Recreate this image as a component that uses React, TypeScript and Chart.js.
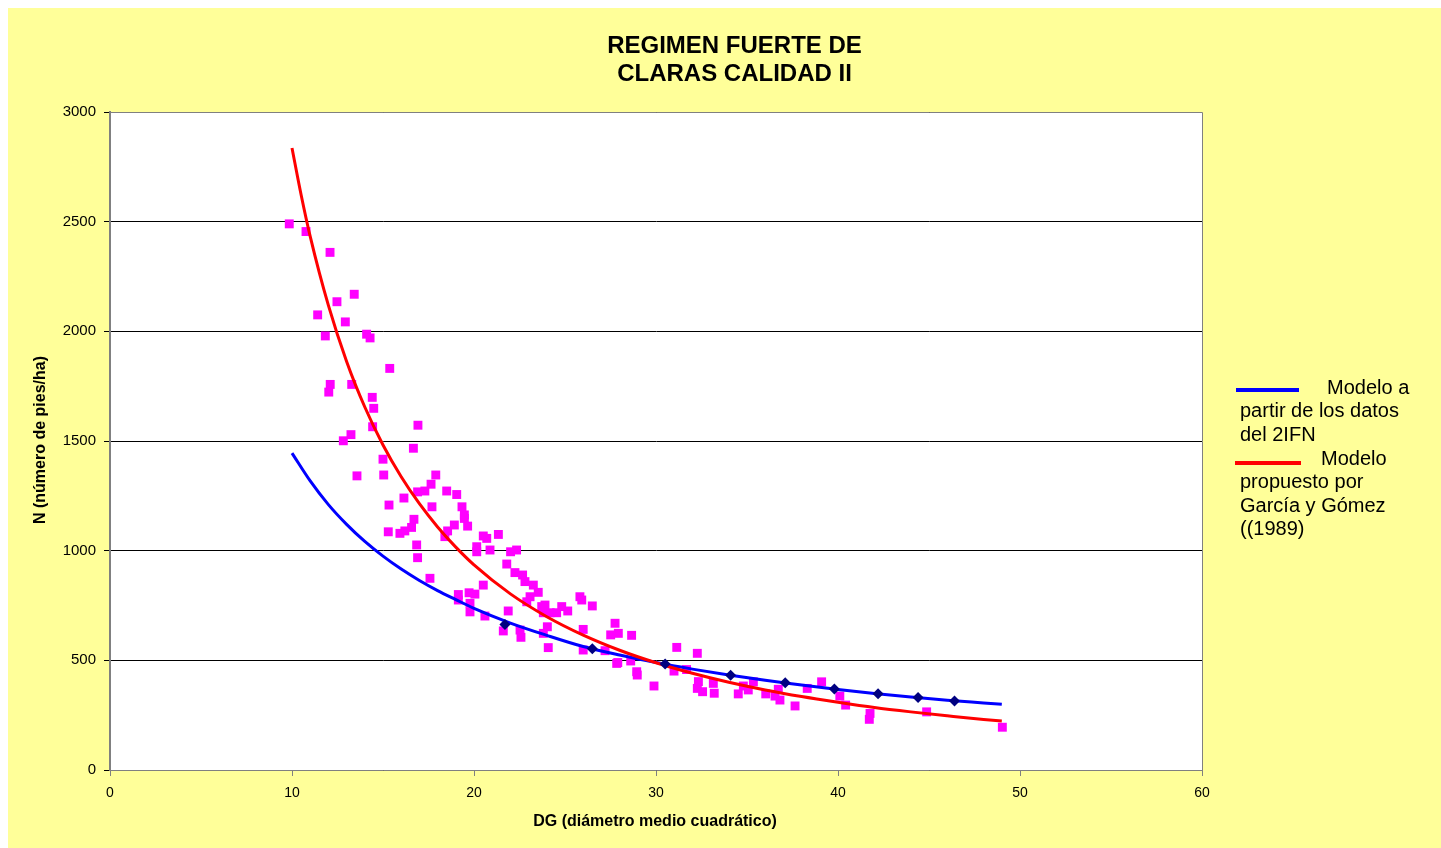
import React, { useEffect, useRef } from "react";
import { Chart, registerables } from "chart.js";

Chart.register(...registerables);

const FONT = "'Liberation Sans', Arial, Helvetica, sans-serif";

// Observed plots: DG (cm) and N (pies/ha)
const obsDG = [
  9.85, 10.77, 12.09, 13.42, 12.47, 11.41, 12.93, 11.83, 14.1, 14.29,
  15.37, 12.1, 12.02, 13.28, 14.41, 14.49, 14.43, 16.92, 13.24, 12.82,
  16.67, 15.0, 13.57, 15.04, 17.9, 17.64, 16.15, 16.9, 17.3, 18.5,
  19.05, 15.33, 17.69, 19.34, 19.47, 19.47, 19.65, 16.7, 16.57, 15.29,
  15.93, 16.2, 18.92, 18.55, 18.4, 20.51, 20.7, 21.34, 16.85, 16.9,
  20.15, 20.15, 20.88, 22.01, 22.34, 21.8, 22.25, 22.67, 22.8, 23.26,
  23.53, 23.08, 22.9, 17.58, 20.51, 19.14, 19.73, 20.05, 19.14, 19.78,
  19.78, 20.6, 21.88, 23.72, 23.9, 23.81, 24.18, 24.82, 25.15, 24.54,
  25.82, 25.92, 26.5, 24.03, 23.81, 21.61, 22.53, 22.58, 24.08, 26.0,
  27.75, 27.51, 27.93, 27.84, 26.0, 27.2, 28.66, 27.9, 28.61, 28.94,
  28.97, 29.89, 31.14, 32.27, 30.99, 31.68, 32.33, 32.27, 32.56, 33.15,
  33.2, 34.52, 34.8, 35.35, 35.07, 36.03, 36.54, 36.81, 36.72, 37.64,
  38.31, 39.1, 40.1, 40.42, 41.76, 41.72, 44.87, 49.03,
];
const obsN = [
  2490, 2455, 2360, 2169, 2135, 2075, 2043, 1979, 1987, 1970,
  1831, 1758, 1723, 1758, 1699, 1649, 1565, 1572, 1529, 1501,
  1467, 1417, 1341, 1345, 1345, 1303, 1240, 1268, 1272, 1272,
  1256, 1208, 1200, 1200, 1163, 1147, 1112, 1143, 1106, 1086,
  1079, 1090, 1117, 1090, 1064, 1067, 1056, 1074, 1026, 968,
  1018, 995, 1003, 995, 1003, 939, 900, 889, 859, 843,
  810, 790, 767, 874, 843, 800, 808, 802, 775, 760,
  721, 702, 725, 745, 752, 717, 717, 745, 725, 717,
  790, 775, 748, 653, 623, 634, 638, 605, 558, 641,
  669, 616, 623, 486, 547, 544, 614, 490, 497, 448,
  433, 383, 559, 532, 451, 458, 403, 372, 357, 395,
  350, 347, 383, 402, 365, 347, 337, 319, 368, 292,
  372, 402, 337, 296, 258, 231, 265, 195,
];

// Model fitted to 2IFN data (blue curve)
const ifnDG = [10, 11, 12, 13, 14, 15, 16, 17, 18, 19, 20, 22, 24, 26, 28, 30, 32, 34, 36, 38, 40, 42, 44, 46, 48, 49];
const ifnN = [1445, 1318, 1210, 1120, 1042, 975, 916, 864, 818, 777, 737, 670, 614, 563, 524, 490, 460, 433, 409, 388, 367, 349, 333, 318, 306, 300];

// Marked points on the 2IFN model
const ifnMarkDG = [21.7, 26.5, 30.5, 34.1, 37.1, 39.8, 42.2, 44.4, 46.4];
const ifnMarkN = [663, 553, 483, 432, 398, 369, 348, 330, 315];

// Model proposed by García y Gómez (1989) (red curve)
const ggDG = [10, 10.5, 11, 12, 13, 14, 15, 16, 17, 18, 19, 20, 22, 24, 26, 28, 30, 32, 34, 36, 38, 40, 42, 44, 46, 48, 49];
const ggN = [2836, 2623, 2433, 2118, 1863, 1655, 1482, 1337, 1214, 1108, 1016, 935, 803, 699, 615, 546, 489, 441, 400, 365, 335, 309, 285, 265, 247, 230, 223];

const xTickStep = 10;
const yTickStep = 500;

const titleLines = ["REGIMEN FUERTE DE", "CLARAS CALIDAD II"];
const xTitle = "DG (diámetro medio cuadrático)";
const yTitle = "N (número de pies/ha)";

const toPts = (xs: number[], ys: number[]) => xs.map((x, i) => ({ x, y: ys[i] }));

export default function App() {
  const ref = useRef<HTMLCanvasElement>(null);

  useEffect(() => {
    if (!ref.current) return;
    const plotPlugin = {
      id: "plotDecor",
      beforeDraw(chart: any) {
        const { ctx, chartArea: a } = chart;
        ctx.save();
        ctx.fillStyle = "#FFFFFF";
        ctx.fillRect(a.left, a.top, a.right - a.left, a.bottom - a.top);
        ctx.restore();
      },
      beforeDatasetsDraw(chart: any) {
        const { ctx, chartArea: a } = chart;
        ctx.save();
        ctx.strokeStyle = "#808080";
        ctx.lineWidth = 1;
        ctx.beginPath();
        ctx.moveTo(a.left, a.top + 0.5);
        ctx.lineTo(a.right + 0.5, a.top + 0.5);
        ctx.lineTo(a.right + 0.5, a.bottom);
        ctx.stroke();
        ctx.restore();
      },
      afterDraw(chart: any) {
        const { ctx } = chart;
        ctx.save();
        ctx.fillStyle = "#000";
        ctx.textAlign = "center";
        ctx.textBaseline = "alphabetic";
        ctx.font = `bold 24px ${FONT}`;
        ctx.fillText(titleLines[0], 726.5, 45);
        ctx.fillText(titleLines[1], 726.5, 73);
        ctx.font = `bold 16px ${FONT}`;
        ctx.textBaseline = "middle";
        ctx.fillText(xTitle, 647, 814);
        ctx.translate(33, 432);
        ctx.rotate(-Math.PI / 2);
        ctx.fillText(yTitle, 0, 0);
        ctx.restore();
      },
    };

    const chart = new Chart(ref.current, {
      type: "scatter",
      data: {
        datasets: [
          {
            label: "Modelo propuesto por García y Gómez (1989)",
            data: toPts(ggDG, ggN),
            showLine: true,
            borderColor: "#FF0000",
            backgroundColor: "#FF0000",
            borderWidth: 3,
            pointRadius: 0,
            cubicInterpolationMode: "monotone",
            order: 1,
          },
          {
            label: "puntos 2IFN",
            data: toPts(ifnMarkDG, ifnMarkN),
            showLine: false,
            pointStyle: "rectRot",
            pointRadius: 5.5,
            backgroundColor: "#000080",
            borderColor: "#000080",
            borderWidth: 0,
            order: 0,
          },
          {
            label: "Modelo a partir de los datos del 2IFN",
            data: toPts(ifnDG, ifnN),
            showLine: true,
            borderColor: "#0000FF",
            backgroundColor: "#0000FF",
            borderWidth: 3,
            pointRadius: 0,
            cubicInterpolationMode: "monotone",
            order: 2,
          },
          {
            label: "Parcelas",
            data: toPts(obsDG, obsN),
            showLine: false,
            pointStyle: "rect",
            pointRadius: 6.3,
            backgroundColor: "#FF00FF",
            borderColor: "#FF00FF",
            borderWidth: 0,
            order: 3,
          },
        ],
      },
      options: {
        animation: false,
        responsive: true,
        maintainAspectRatio: false,
        events: [],
        layout: { padding: { top: 104, right: 239, left: 0, bottom: 0 } },
        plugins: {
          legend: { display: false },
          tooltip: { enabled: false },
          title: { display: false },
        },
        scales: {
          x: {
            type: "linear",
            min: 0,
            max: 60,
            ticks: {
              stepSize: xTickStep,
              font: { family: FONT, size: 14 },
              color: "#000",
              padding: 9,
              maxRotation: 0,
              autoSkip: false,
              callback: (v: any) => String(v),
            },
            grid: { drawOnChartArea: false, drawTicks: true, tickLength: 6, color: "#808080" },
            border: { color: "#808080", width: 1 },
            afterFit: (s: any) => {
              s.height = 78;
            },
          },
          y: {
            type: "linear",
            min: 0,
            max: 3000,
            ticks: {
              stepSize: yTickStep,
              font: { family: FONT, size: 15 },
              color: "#000",
              padding: 8,
              callback: (v: any) => String(v),
            },
            grid: { color: "#000", lineWidth: 1, tickLength: 6 },
            border: { color: "#808080", width: 2 },
            afterFit: (s: any) => {
              s.width = 102;
            },
          },
        },
      },
      plugins: [plotPlugin],
    } as any);
    return () => chart.destroy();
  }, []);

  const textStyle: React.CSSProperties = {
    position: "absolute",
    fontFamily: FONT,
    fontSize: 20,
    lineHeight: "23.3px",
    color: "#000",
    whiteSpace: "nowrap",
  };

  return (
    <div
      style={{
        position: "fixed",
        left: 8,
        top: 8,
        width: 1433,
        height: 840,
        background: "#FFFF99",
      }}
    >
      <canvas ref={ref} style={{ display: "block" }} />
      <div style={{ position: "absolute", left: 1228, top: 380, width: 63, height: 4, background: "#0000FF" }} />
      <div style={{ ...textStyle, left: 1232, top: 368 }}>
        <span style={{ paddingLeft: 87 }}>Modelo a</span>
        <br />
        partir de los datos
        <br />
        del 2IFN
      </div>
      <div style={{ position: "absolute", left: 1227, top: 453, width: 66, height: 4, background: "#FF0000" }} />
      <div style={{ ...textStyle, left: 1232, top: 439 }}>
        <span style={{ paddingLeft: 81 }}>Modelo</span>
        <br />
        propuesto por
        <br />
        García y Gómez
        <br />
        ((1989)
      </div>
    </div>
  );
}
